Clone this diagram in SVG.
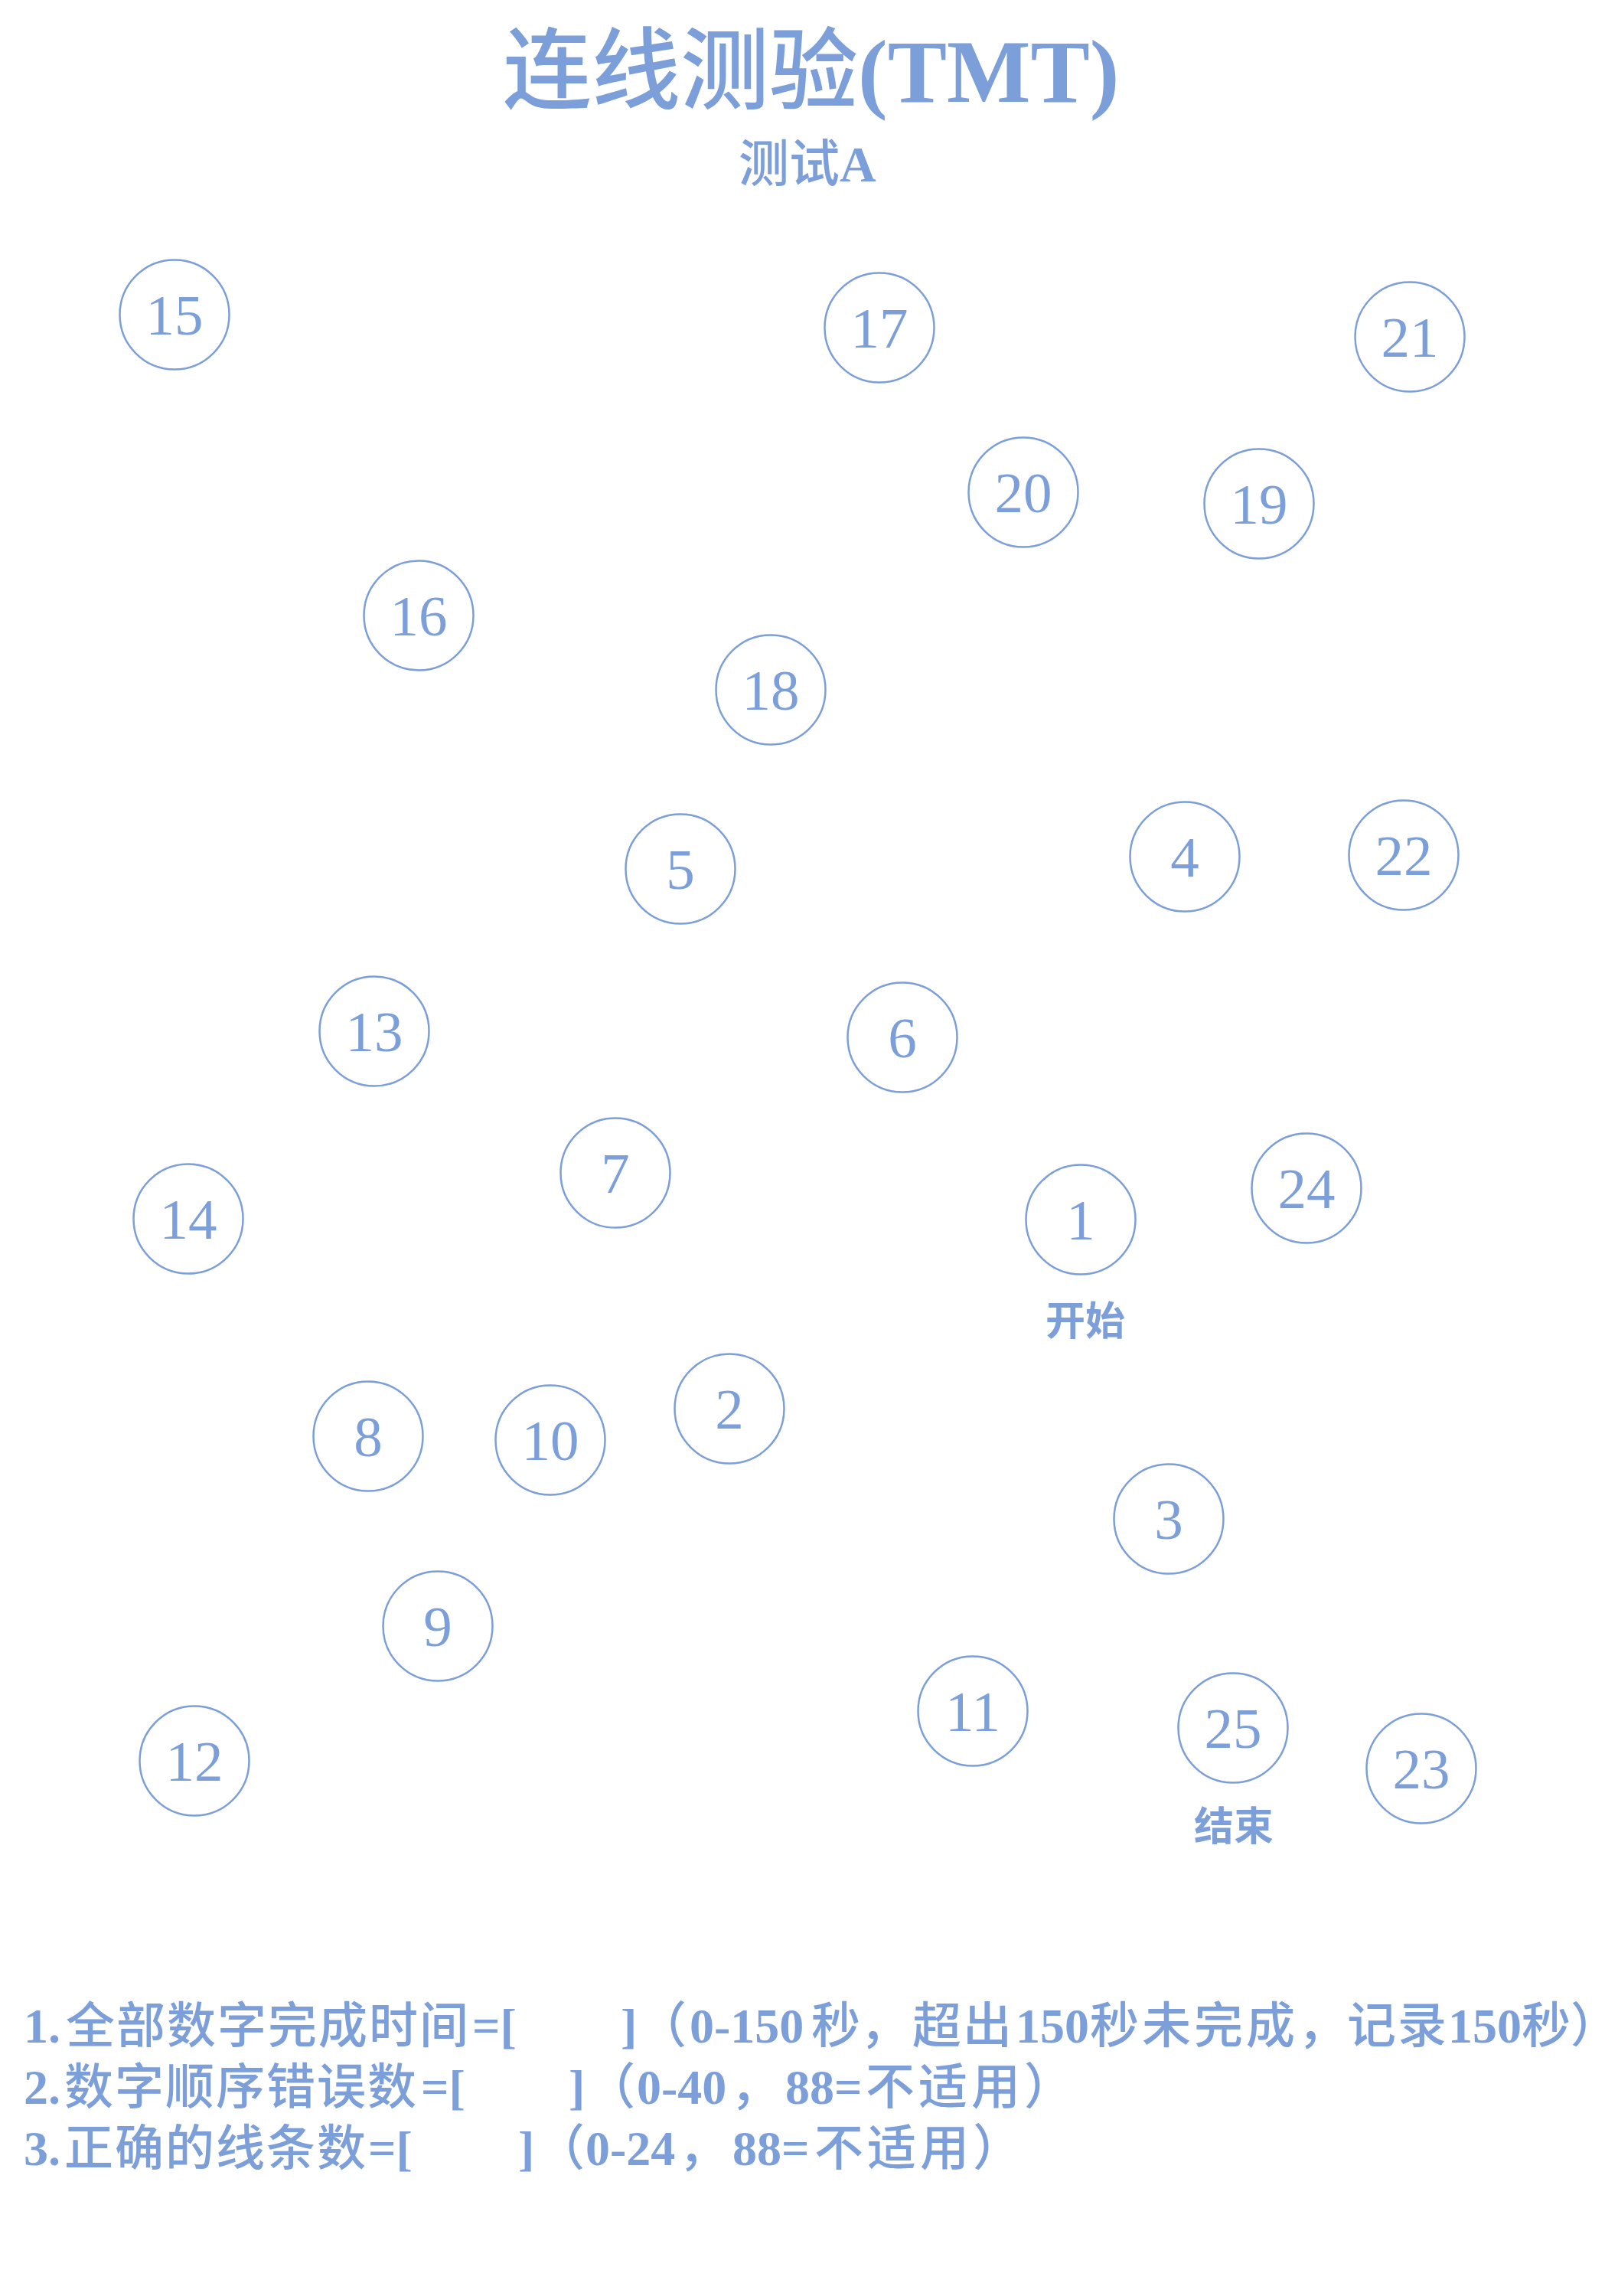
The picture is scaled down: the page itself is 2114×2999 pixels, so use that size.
<svg xmlns="http://www.w3.org/2000/svg" width="2114" height="2999" viewBox="0 0 2114 2999">
<style>
  .bg { fill: #ffffff; }
  .c { fill: none; stroke: #7C9FD9; stroke-width: 2.5; }
  .n { font-family: "Liberation Serif", "Times New Roman", serif; font-size: 75px; fill: #7C9FD9; text-anchor: middle; }
  .lbl { font-family: "Noto Sans CJK SC", "Noto Sans", sans-serif; font-weight: bold; font-size: 52px; fill: #7C9FD9; text-anchor: middle; }
  .title { font-family: "Liberation Serif", "Noto Sans CJK SC", serif; font-weight: bold; font-size: 116px; fill: #7C9FD9; }
  .sub { font-family: "Liberation Serif", "Noto Sans CJK SC", serif; font-weight: bold; font-size: 66px; fill: #7C9FD9; }
  .note { font-family: "Liberation Serif", "Noto Sans CJK SC", serif; font-weight: bold; font-size: 64px; fill: #7C9FD9; }
  .cj { font-family: "Noto Sans CJK SC", sans-serif; font-weight: 500; }
</style>
<defs>
  <circle id="ring" r="71.5" class="c"/>
</defs>
<rect class="bg" x="0" y="0" width="2114" height="2999"/>

<g id="title">
  <text class="title" x="657" y="133"><tspan class="cj" font-weight="bold">连线测验</tspan>(TMT)</text>
  <text class="sub" x="965" y="237"><tspan class="cj" font-weight="bold">测试</tspan>A</text>
</g>

<g id="connectors"></g>

<g id="nodes">
  <g id="node-1"><use href="#ring" x="1412" y="1593"/><text class="n" x="1412" y="1619">1</text><text class="lbl" x="1418" y="1744">开始</text></g>
  <g id="node-2"><use href="#ring" x="953" y="1840"/><text class="n" x="953" y="1866">2</text></g>
  <g id="node-3"><use href="#ring" x="1527" y="1984"/><text class="n" x="1527" y="2010">3</text></g>
  <g id="node-4"><use href="#ring" x="1548" y="1119"/><text class="n" x="1548" y="1145">4</text></g>
  <g id="node-5"><use href="#ring" x="889" y="1135"/><text class="n" x="889" y="1161">5</text></g>
  <g id="node-6"><use href="#ring" x="1179" y="1355"/><text class="n" x="1179" y="1381">6</text></g>
  <g id="node-7"><use href="#ring" x="804" y="1532"/><text class="n" x="804" y="1558">7</text></g>
  <g id="node-8"><use href="#ring" x="481" y="1876"/><text class="n" x="481" y="1902">8</text></g>
  <g id="node-9"><use href="#ring" x="572" y="2124"/><text class="n" x="572" y="2150">9</text></g>
  <g id="node-10"><use href="#ring" x="719" y="1881"/><text class="n" x="719" y="1907">10</text></g>
  <g id="node-11"><use href="#ring" x="1271" y="2235"/><text class="n" x="1271" y="2261">11</text></g>
  <g id="node-12"><use href="#ring" x="254" y="2300"/><text class="n" x="254" y="2326">12</text></g>
  <g id="node-13"><use href="#ring" x="489" y="1347"/><text class="n" x="489" y="1373">13</text></g>
  <g id="node-14"><use href="#ring" x="246" y="1592"/><text class="n" x="246" y="1618">14</text></g>
  <g id="node-15"><use href="#ring" x="228" y="411"/><text class="n" x="228" y="437">15</text></g>
  <g id="node-16"><use href="#ring" x="547" y="804"/><text class="n" x="547" y="830">16</text></g>
  <g id="node-17"><use href="#ring" x="1149" y="428"/><text class="n" x="1149" y="454">17</text></g>
  <g id="node-18"><use href="#ring" x="1007" y="901"/><text class="n" x="1007" y="927">18</text></g>
  <g id="node-19"><use href="#ring" x="1645" y="658"/><text class="n" x="1645" y="684">19</text></g>
  <g id="node-20"><use href="#ring" x="1337" y="643"/><text class="n" x="1337" y="669">20</text></g>
  <g id="node-21"><use href="#ring" x="1842" y="440"/><text class="n" x="1842" y="466">21</text></g>
  <g id="node-22"><use href="#ring" x="1834" y="1117"/><text class="n" x="1834" y="1143">22</text></g>
  <g id="node-23"><use href="#ring" x="1857" y="2310"/><text class="n" x="1857" y="2336">23</text></g>
  <g id="node-24"><use href="#ring" x="1707" y="1552"/><text class="n" x="1707" y="1578">24</text></g>
  <g id="node-25"><use href="#ring" x="1611" y="2257"/><text class="n" x="1611" y="2283">25</text><text class="lbl" x="1612" y="2404">结束</text></g>
</g>

<g id="notes">
  <text class="note" y="2668"><tspan x="31">1.</tspan><tspan class="cj" x="86" letter-spacing="2">全部数字完成时间</tspan><tspan x="617">=[</tspan><tspan x="811">]</tspan><tspan class="cj" x="833">（</tspan><tspan x="901">0-150</tspan><tspan class="cj" x="1060">秒，</tspan><tspan class="cj" x="1192" letter-spacing="2">超出</tspan><tspan x="1327">150</tspan><tspan class="cj" x="1424" letter-spacing="4">秒未完成</tspan><tspan class="cj" x="1696">，</tspan><tspan class="cj" x="1760" letter-spacing="2">记录</tspan><tspan x="1892">150</tspan><tspan class="cj" x="1988">秒</tspan><tspan class="cj" x="2052" font-size="62">）</tspan></text>
  <text class="note" y="2748"><tspan x="31">2.</tspan><tspan class="cj" x="84" letter-spacing="2">数字顺序错误数</tspan><tspan x="550">=[</tspan><tspan x="743">]</tspan><tspan class="cj" x="766">（</tspan><tspan x="832">0-40</tspan><tspan class="cj" x="955">，</tspan><tspan x="1026">88=</tspan><tspan class="cj" x="1131" letter-spacing="5">不适用）</tspan></text>
  <text class="note" y="2828"><tspan x="31">3.</tspan><tspan class="cj" x="84" letter-spacing="2">正确的线条数</tspan><tspan x="481">=[</tspan><tspan x="677">]</tspan><tspan class="cj" x="700">（</tspan><tspan x="765">0-24</tspan><tspan class="cj" x="887">，</tspan><tspan x="957">88=</tspan><tspan class="cj" x="1064" letter-spacing="5">不适用）</tspan></text>
</g>
</svg>
